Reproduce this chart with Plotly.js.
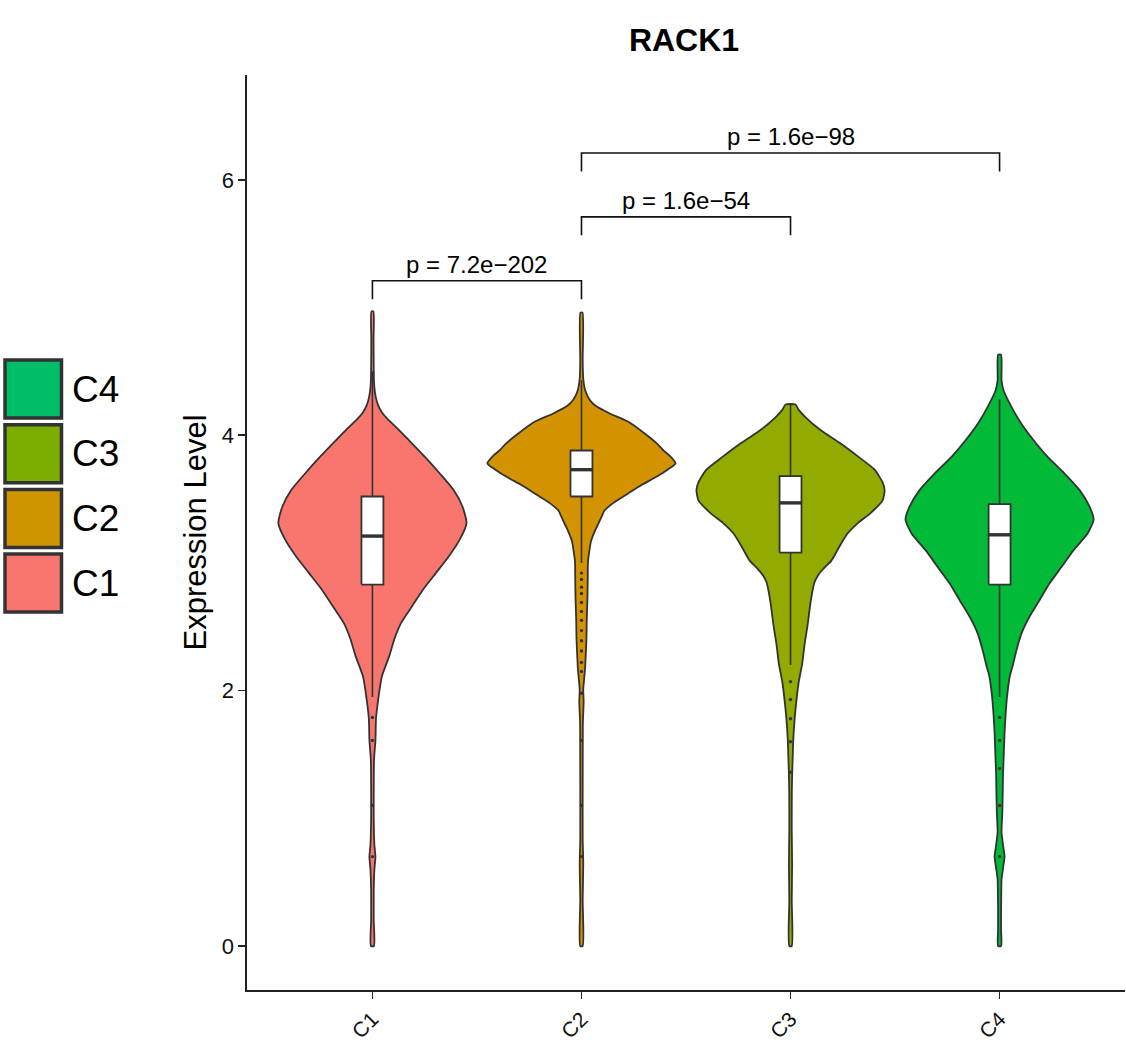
<!DOCTYPE html>
<html>
<head>
<meta charset="utf-8">
<script src="https://cdn.plot.ly/plotly-3.0.1.min.js"></script>
<style>html,body{margin:0;padding:0;background:#fff;}#chart{width:1126px;height:1046px;}</style>
</head>
<body>
<div id="chart"></div>
<script>
// ---------------- data ----------------
const categories = ['C1', 'C2', 'C3', 'C4'];
const title = 'RACK1';
const yTitle = 'Expression Level';
const yTicks = [0, 2, 4, 6];

// violin outlines: expression levels and relative density (max = 1)
const c1Levels  = [0.00,0.20,0.44,0.60,0.70,0.79,0.99,1.22,1.46,1.61,1.78,1.94,2.11,2.27,2.40,2.53,2.66,2.79,2.92,3.05,3.18,3.31,3.44,3.57,3.70,3.83,3.96,4.05,4.12,4.18,4.24,4.30,4.38,4.51,4.75,4.97];
const c1Density = [0.016,0.014,0.014,0.021,0.032,0.021,0.014,0.014,0.017,0.032,0.038,0.063,0.100,0.179,0.232,0.305,0.421,0.537,0.674,0.811,0.926,1.000,0.958,0.863,0.716,0.558,0.389,0.270,0.170,0.100,0.058,0.035,0.020,0.014,0.012,0.010];

const c2Levels  = [0.00,0.36,0.65,0.83,1.30,1.61,1.75,1.91,2.01,2.08,2.18,2.32,2.41,2.55,2.74,2.91,3.01,3.10,3.17,3.26,3.31,3.36,3.41,3.47,3.54,3.61,3.67,3.73,3.78,3.84,3.88,3.93,3.99,4.10,4.17,4.23,4.28,4.35,4.45,4.59,4.96];
const c2Density = [0.013,0.013,0.019,0.013,0.013,0.014,0.015,0.023,0.019,0.027,0.039,0.048,0.053,0.056,0.064,0.067,0.069,0.085,0.101,0.149,0.181,0.213,0.245,0.340,0.489,0.638,0.787,0.915,1.000,0.936,0.872,0.809,0.713,0.511,0.300,0.150,0.085,0.040,0.018,0.013,0.011];

const c3Levels  = [0.00,0.36,0.64,0.91,1.21,1.36,1.50,1.61,1.79,1.93,2.07,2.21,2.36,2.51,2.66,2.79,2.85,2.90,2.95,3.02,3.13,3.23,3.31,3.39,3.49,3.57,3.63,3.73,3.83,3.94,4.04,4.14,4.20,4.24];
const c3Density = [0.013,0.013,0.017,0.013,0.014,0.018,0.024,0.029,0.045,0.064,0.088,0.124,0.149,0.181,0.207,0.236,0.256,0.290,0.345,0.436,0.521,0.606,0.713,0.851,0.979,1.000,0.979,0.894,0.723,0.521,0.319,0.160,0.085,0.053];

const c4Levels  = [0.00,0.13,0.27,0.40,0.52,0.61,0.70,0.79,0.89,1.04,1.22,1.35,1.50,1.65,1.81,1.97,2.12,2.19,2.32,2.45,2.58,2.71,2.84,2.97,3.10,3.23,3.34,3.44,3.57,3.70,3.83,3.96,4.10,4.22,4.35,4.43,4.63];
const c4Density = [0.016,0.016,0.016,0.018,0.021,0.037,0.053,0.037,0.021,0.029,0.034,0.037,0.045,0.052,0.064,0.082,0.111,0.138,0.181,0.234,0.319,0.426,0.532,0.660,0.787,0.936,1.000,0.957,0.851,0.691,0.511,0.362,0.223,0.128,0.043,0.021,0.016];

// box statistics
const boxQ1     = [2.83, 3.52, 3.08, 2.83];
const boxMedian = [3.21, 3.73, 3.47, 3.22];
const boxQ3     = [3.52, 3.88, 3.68, 3.46];
const boxLower  = [1.95, 3.00, 2.20, 1.95];
const boxUpper  = [4.50, 4.43, 4.24, 4.28];

// outliers
const c1Outliers = [1.79, 1.61, 1.10, 0.70];
const c2Outliers = [2.92, 2.87, 2.81, 2.76, 2.69, 2.62, 2.55, 2.47, 2.39, 2.31, 2.22, 2.15, 1.98, 1.61, 1.10, 0.70];
const c3Outliers = [2.07, 1.93, 1.78, 1.60, 1.36];
const c4Outliers = [1.79, 1.61, 1.39, 1.10, 0.70];

// pairwise comparisons
const compFrom   = ['C1', 'C2', 'C2'];
const compTo     = ['C2', 'C3', 'C4'];
const compHeight = [5.21, 5.71, 6.21];
const compLabel  = ['p = 7.2e\u2212202', 'p = 1.6e\u221254', 'p = 1.6e\u221298'];

// ---------------- styles ----------------
const violinColors = ['#F8766D', '#D39200', '#93AA00', '#00BA38'];
const legendColors = ['#F8766D', '#CD9600', '#7CAE00', '#00BE67'];
const FONT = '"Liberation Sans", Arial, Helvetica, sans-serif';
const OUTLINE = '#333333';
const HALF_MAX = 0.45;
const BOX_W = 0.105;
const BRACKET_DROP = 0.145;

const levels = [c1Levels, c2Levels, c3Levels, c4Levels];
const dens = [c1Density, c2Density, c3Density, c4Density];
const outliers = [c1Outliers, c2Outliers, c3Outliers, c4Outliers];
const pos = c => categories.indexOf(c) + 1;

const traces = [];
categories.forEach((c, i) => {
  const p = i + 1;
  const ys = levels[i], ds = dens[i];
  const x = [], y = [];
  for (let k = 0; k < ys.length; k++) { x.push(p - ds[k] * HALF_MAX); y.push(ys[k]); }
  for (let k = ys.length - 1; k >= 0; k--) { x.push(p + ds[k] * HALF_MAX); y.push(ys[k]); }
  x.push(x[0]); y.push(y[0]);
  traces.push({
    type: 'scatter', mode: 'lines', x: x, y: y, fill: 'toself',
    fillcolor: violinColors[i],
    line: {color: OUTLINE, width: 1.8, shape: 'spline', smoothing: 0.6},
    hoverinfo: 'skip', showlegend: false
  });
});

// whiskers
const wx = [], wy = [];
categories.forEach((c, i) => {
  const p = i + 1;
  wx.push(p, p, null, p, p, null);
  wy.push(boxLower[i], boxQ1[i], null, boxQ3[i], boxUpper[i], null);
});
traces.push({type: 'scatter', mode: 'lines', x: wx, y: wy, line: {color: OUTLINE, width: 1.6}, hoverinfo: 'skip', showlegend: false});

// boxes (white rectangles)
categories.forEach((c, i) => {
  const p = i + 1, a = p - BOX_W / 2, b = p + BOX_W / 2;
  traces.push({
    type: 'scatter', mode: 'lines',
    x: [a, b, b, a, a], y: [boxQ1[i], boxQ1[i], boxQ3[i], boxQ3[i], boxQ1[i]],
    fill: 'toself', fillcolor: '#ffffff', line: {color: OUTLINE, width: 1.8},
    hoverinfo: 'skip', showlegend: false
  });
});

// thicker medians
const mx = [], my = [];
categories.forEach((c, i) => {
  const p = i + 1;
  mx.push(p - BOX_W / 2, p + BOX_W / 2, null);
  my.push(boxMedian[i], boxMedian[i], null);
});
traces.push({type: 'scatter', mode: 'lines', x: mx, y: my, line: {color: OUTLINE, width: 3.4}, hoverinfo: 'skip', showlegend: false});

// outliers
const ox = [], oy = [];
categories.forEach((c, i) => outliers[i].forEach(v => { ox.push(i + 1); oy.push(v); }));
traces.push({type: 'scatter', mode: 'markers', x: ox, y: oy, marker: {color: OUTLINE, size: 3.4}, hoverinfo: 'skip', showlegend: false});

// brackets
const bx = [], by = [];
compFrom.forEach((f, j) => {
  const a = pos(f), b = pos(compTo[j]), h = compHeight[j];
  bx.push(a, a, b, b, null);
  by.push(h - BRACKET_DROP, h, h, h - BRACKET_DROP, null);
});
traces.push({type: 'scatter', mode: 'lines', x: bx, y: by, line: {color: '#111', width: 1.6}, hoverinfo: 'skip', showlegend: false});

// ---------------- layout ----------------
const W = 1126, H = 1046;
const M = {l: 247, r: 1, t: 75, b: 56};
const pw = W - M.l - M.r, ph = H - M.t - M.b;
const px2x = px => (px - M.l) / pw;
const py2y = py => (H - M.b - py) / ph;

const annotations = compFrom.map((f, j) => ({
  x: (pos(f) + pos(compTo[j])) / 2, y: compHeight[j], xref: 'x', yref: 'y',
  text: compLabel[j], showarrow: false, xanchor: 'center', yanchor: 'bottom', yshift: 1,
  font: {family: FONT, size: 24, color: '#000'}
}));
annotations.push({
  x: px2x(195), y: 0.5, xref: 'paper', yref: 'paper', text: yTitle, textangle: -90,
  showarrow: false, xanchor: 'center', yanchor: 'middle',
  font: {family: FONT, size: 31, color: '#000'}
});

// legend (top-down: C4, C3, C2, C1)
const shapes = [];
const legendOrder = categories.slice().reverse();
legendOrder.forEach((c, k) => {
  const top = 358 + k * 64.7;
  const idx = categories.indexOf(c);
  shapes.push({
    type: 'rect', xref: 'paper', yref: 'paper',
    x0: px2x(5), x1: px2x(61.5), y0: py2y(top + 2), y1: py2y(top + 60),
    fillcolor: legendColors[idx], line: {color: '#333333', width: 3.5}
  });
  annotations.push({
    x: px2x(70), y: py2y(top + 31), xref: 'paper', yref: 'paper', text: c,
    showarrow: false, xanchor: 'left', yanchor: 'middle',
    font: {family: FONT, size: 37, color: '#000'}
  });
});

const layout = {
  width: W, height: H, margin: M,
  paper_bgcolor: '#ffffff', plot_bgcolor: '#ffffff',
  showlegend: false, hovermode: false,
  title: {text: '<b>' + title + '</b>', x: px2x(684), xref: 'paper', xanchor: 'center',
          y: 1 - 40 / H, yref: 'container', yanchor: 'middle',
          font: {family: FONT, size: 32, color: '#000'}},
  xaxis: {
    range: [0.4, 4.6], tickvals: categories.map(pos), ticktext: categories,
    tickangle: -45, ticks: 'outside', ticklen: 7, tickwidth: 1.5, tickcolor: '#222',
    showline: true, linecolor: '#222', linewidth: 1.6, showgrid: false, zeroline: false,
    tickfont: {family: FONT, size: 21, color: '#111'}
  },
  yaxis: {
    range: [-0.3446, 6.8207], tickvals: yTicks, ticktext: yTicks.map(String),
    ticks: 'outside', ticklen: 7, tickwidth: 1.5, tickcolor: '#222',
    showline: true, linecolor: '#222', linewidth: 1.6, showgrid: false, zeroline: false,
    tickfont: {family: FONT, size: 22, color: '#111'}
  },
  annotations: annotations,
  shapes: shapes
};

Plotly.newPlot('chart', traces, layout, {staticPlot: true, displayModeBar: false});
</script>
</body>
</html>
